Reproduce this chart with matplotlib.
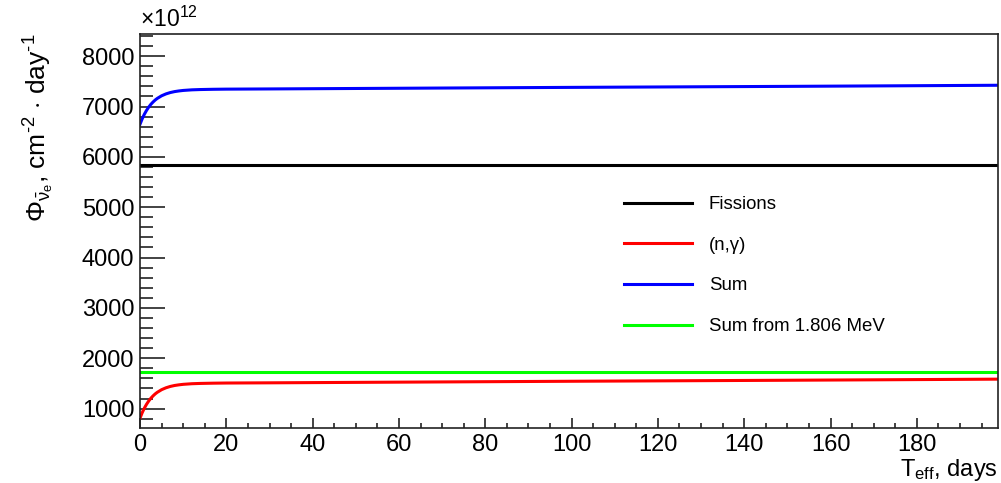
import matplotlib
matplotlib.use('Agg')
import matplotlib.pyplot as plt
from matplotlib.ticker import MultipleLocator

plt.rcParams['font.family'] = ['Liberation Sans', 'DejaVu Sans']
plt.rcParams['mathtext.fontset'] = 'custom'
plt.rcParams['mathtext.rm'] = 'Liberation Sans'
plt.rcParams['mathtext.it'] = 'Liberation Sans'
plt.rcParams['mathtext.bf'] = 'Liberation Sans:bold'

# Antineutrino flux vs effective time (units of 1e12 cm^-2 day^-1)
days = [0, 0.5, 1, 1.5, 2, 2.5, 3, 3.5, 4, 5, 6, 7, 8, 9, 10, 12, 14, 17, 20,
        30, 50, 75, 100, 125, 150, 175, 199]
n_gamma = [812, 919, 1009, 1085, 1150, 1205, 1251, 1291, 1324, 1376, 1413, 1440,
           1459, 1472, 1482, 1494, 1500, 1505, 1508, 1512, 1521, 1532, 1543,
           1553, 1563, 1574, 1585]
flux_sum = [6649, 6756, 6846, 6922, 6987, 7042, 7088, 7128, 7161, 7213, 7250,
            7277, 7296, 7309, 7319, 7331, 7337, 7342, 7345, 7349, 7358, 7369,
            7380, 7390, 7400, 7411, 7422]
fissions = 5837
sum_from_1806 = 1722

fig = plt.figure(figsize=(10.01, 4.83), dpi=100)
ax = fig.add_axes([0.1399, 0.1139, 0.997 - 0.1399, 0.9296 - 0.1139])

ax.plot([days[0], days[-1]], [fissions, fissions], color='black', lw=2.2, label='Fissions')
ax.plot(days, n_gamma, color='#ff0000', lw=2.2, label='(n,γ)')
ax.plot(days, flux_sum, color='#0000ff', lw=2.2, label='Sum')
ax.plot([days[0], days[-1]], [sum_from_1806, sum_from_1806], color='#00ff00', lw=2.2,
        label='Sum from 1.806 MeV')

ax.set_xlim(0, 198.8)
ax.set_ylim(615, 8440)

ax.xaxis.set_major_locator(MultipleLocator(20))
ax.xaxis.set_minor_locator(MultipleLocator(5))
ax.yaxis.set_major_locator(MultipleLocator(1000))
ax.yaxis.set_minor_locator(MultipleLocator(200))
ax.tick_params(axis='both', which='both', direction='in', labelsize=17, width=1.2,
               top=False, right=False, color='#222222')
ax.tick_params(axis='x', which='major', length=7.2, pad=4)
ax.tick_params(axis='x', which='minor', length=3.6)
ax.tick_params(axis='y', which='major', length=18, pad=4)
ax.tick_params(axis='y', which='minor', length=9.4)
for sp in ax.spines.values():
    sp.set_linewidth(1.2)
    sp.set_color('#222222')

ax.text(0, 1.005, r'$\times$10$^{12}$', transform=ax.transAxes, fontsize=16.5,
        ha='left', va='bottom')

fig.text(0.997, 0.026, r'T$_{\rm eff}$, days', fontsize=17, ha='right', va='center')
fig.text(0.039, 0.93, '$\\Phi_{\\bar{\\nu}_{e}}$, cm$^{\u20102}$ $\\cdot$ day$^{\u20101}$',
         fontsize=19, rotation=90, ha='center', va='top')

ax.legend(loc='upper left', bbox_to_anchor=(624 / 1001, 1 - 196 / 483),
          bbox_transform=fig.transFigure, frameon=False, fontsize=13.4,
          handlelength=3.65, handletextpad=0.9, labelspacing=1.27,
          borderpad=0, borderaxespad=0)

fig.savefig('out.png', dpi=100)
